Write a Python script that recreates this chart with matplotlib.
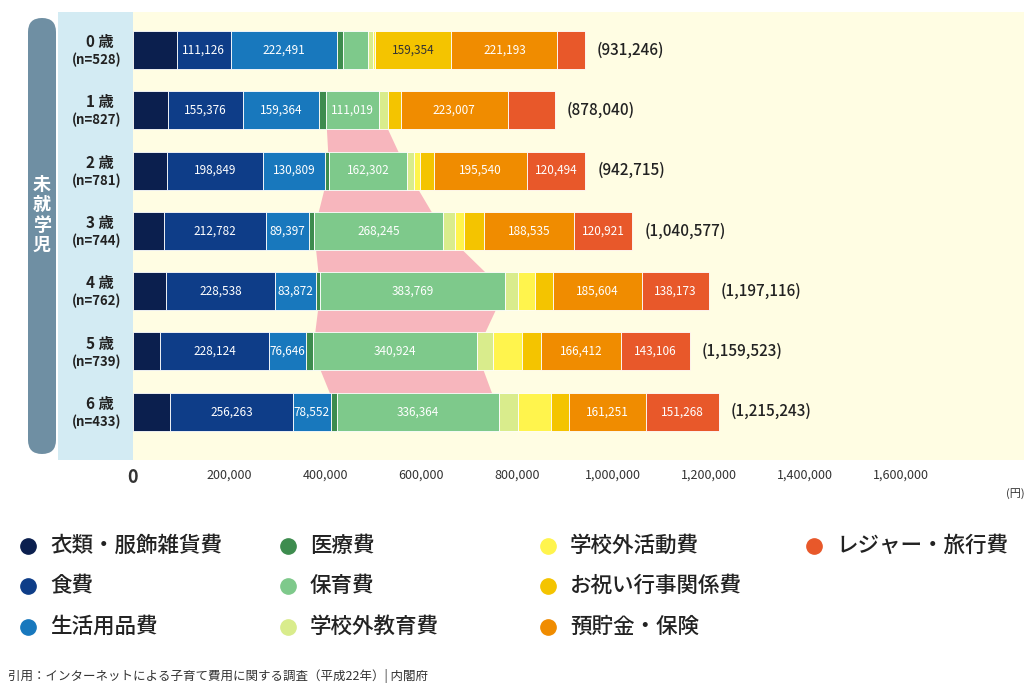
import matplotlib
matplotlib.use("Agg")
import matplotlib.pyplot as plt
from matplotlib.patches import FancyBboxPatch, Rectangle, Polygon
import numpy as np

plt.rcParams['font.family'] = ['Noto Sans CJK JP', 'DejaVu Sans']

ages = ["0 歳", "1 歳", "2 歳", "3 歳", "4 歳", "5 歳", "6 歳"]
ns = ["(n=528)", "(n=827)", "(n=781)", "(n=744)", "(n=762)", "(n=739)", "(n=433)"]
categories = ["衣類・服飾雑貨費", "食費", "生活用品費", "医療費", "保育費", "学校外教育費",
              "学校外活動費", "お祝い行事関係費", "預貯金・保険", "レジャー・旅行費"]
colors = ["#0b1f4e", "#0e3d88", "#1878bd", "#3d8c4e", "#7ec98b", "#d9ec8c",
          "#fff44d", "#f4c400", "#f08c00", "#e8582a"]
clothes = [92000, 73000, 71000, 65000, 68000, 56000, 77000]
food = [111126, 155376, 198849, 212782, 228538, 228124, 256263]
daily = [222491, 159364, 130809, 89397, 83872, 76646, 78552]
medical = [12000, 14000, 8000, 10000, 10000, 14000, 14000]
childcare = [52000, 111019, 162302, 268245, 383769, 340924, 336364]
out_edu = [10000, 18000, 15000, 25000, 28000, 35000, 40000]
activities = [4000, 0, 12000, 20000, 35000, 60000, 68000]
celebration = [159354, 27000, 28000, 40000, 38000, 40000, 37000]
savings = [221193, 223007, 195540, 188535, 185604, 166412, 161251]
leisure = [57000, 98000, 120494, 120921, 138173, 143106, 151268]
totals = ["(931,246)", "(878,040)", "(942,715)", "(1,040,577)", "(1,197,116)", "(1,159,523)", "(1,215,243)"]
labelled = [[1, 2, 7, 8], [1, 2, 4, 8], [1, 2, 4, 8, 9], [1, 2, 4, 8, 9],
            [1, 2, 4, 8, 9], [1, 2, 4, 8, 9], [1, 2, 4, 8, 9]]
xticks = [0, 200000, 400000, 600000, 800000, 1000000, 1200000, 1400000, 1600000]

series = [clothes, food, daily, medical, childcare, out_edu, activities, celebration, savings, leisure]
data = np.array(series, dtype=float)

fig = plt.figure(figsize=(10.24, 6.83), dpi=100)
fig.patch.set_facecolor("white")
W, H = 1024, 683
ax = fig.add_axes([133/W, 1-460/H, 1-133/W, 448/H])
ax.set_facecolor("#fffde3")
ax.set_xlim(0, 1856000)
ax.set_ylim(6.8, -0.63)
for s in ax.spines.values():
    s.set_visible(False)
ax.set_yticks([])
ax.set_xticks(xticks)
ax.set_xticklabels(["0"] + [f"{v:,}" for v in xticks[1:]], fontsize=9, color="#333")
ax.get_xticklabels()[0].set_fontsize(13)
ax.get_xticklabels()[0].set_fontweight("bold")
ax.tick_params(axis="x", length=0, pad=6)

h = 0.63
y = np.arange(len(ages))
lefts = np.vstack([np.zeros(len(ages)), np.cumsum(data, axis=0)[:-1]])

c_left = lefts[4]
c_right = lefts[4] + data[4]
pts = [(c_left[i], y[i]) for i in range(1, 7)] + [(c_right[i], y[i]) for i in range(6, 0, -1)]
ax.add_patch(Polygon(pts, closed=True, facecolor="#f7b6bd", edgecolor="none", zorder=1))

for k in range(len(series)):
    ax.barh(y, data[k], left=lefts[k], height=h, color=colors[k],
            edgecolor="white", linewidth=0.6, zorder=2)
    for i in range(len(ages)):
        if k in labelled[i]:
            tc = "#333" if k == 7 else "white"
            ax.text(lefts[k][i] + data[k][i]/2, y[i], f"{int(data[k][i]):,}",
                    ha="center", va="center", fontsize=8.5, color=tc, zorder=3)
tot = data.sum(axis=0)
for i in range(len(ages)):
    ax.text(tot[i] + 25000, y[i], totals[i], ha="left", va="center", fontsize=11,
            color="#222", fontweight="medium")

ov = fig.add_axes([0, 0, 1, 1], zorder=-1)
ov.set_xlim(0, W); ov.set_ylim(H, 0); ov.axis("off")
ov.add_patch(Rectangle((58, 12), 75, 448, facecolor="#d3ebf3", edgecolor="none"))
ov.add_patch(FancyBboxPatch((28, 18), 28, 436, boxstyle="round,pad=0,rounding_size=14",
                            facecolor="#6f8fa3", edgecolor="none"))
ov2 = fig.add_axes([0, 0, 1, 1], zorder=5)
ov2.set_xlim(0, W); ov2.set_ylim(H, 0); ov2.axis("off")
ov2.patch.set_alpha(0)
ov2.text(42, 215, "未\n就\n学\n児", ha="center", va="center", fontsize=13, color="white",
         linespacing=1.1, fontweight="bold")
for i in range(len(ages)):
    yc = 50 + i * 60.3
    ov2.text(100, yc - 8, ages[i], ha="center", va="center", fontsize=11, color="#222",
             fontweight="bold")
    ov2.text(97, yc + 10, ns[i], ha="center", va="center", fontsize=9.5, color="#222",
             fontweight="bold")
ov2.text(1006, 494, "(円)", ha="left", va="center", fontsize=8, color="#333")

lx = [28, 288, 548, 814]
ly = [546, 586, 627]
for k, name in enumerate(categories):
    col = k // 3 if k < 9 else 3
    row = k % 3 if k < 9 else 0
    cx, cy = lx[col], ly[row]
    ov2.plot(cx, cy, "o", markersize=11, color=colors[k])
    ov2.text(cx + 22, cy, name, ha="left", va="center", fontsize=15.5, color="#222",
             fontweight="medium")
ov2.text(8, 676, "引用：インターネットによる子育て費用に関する調査（平成22年）| 内閣府",
         ha="left", va="center", fontsize=9, color="#333")

fig.savefig("out.png", dpi=100)
